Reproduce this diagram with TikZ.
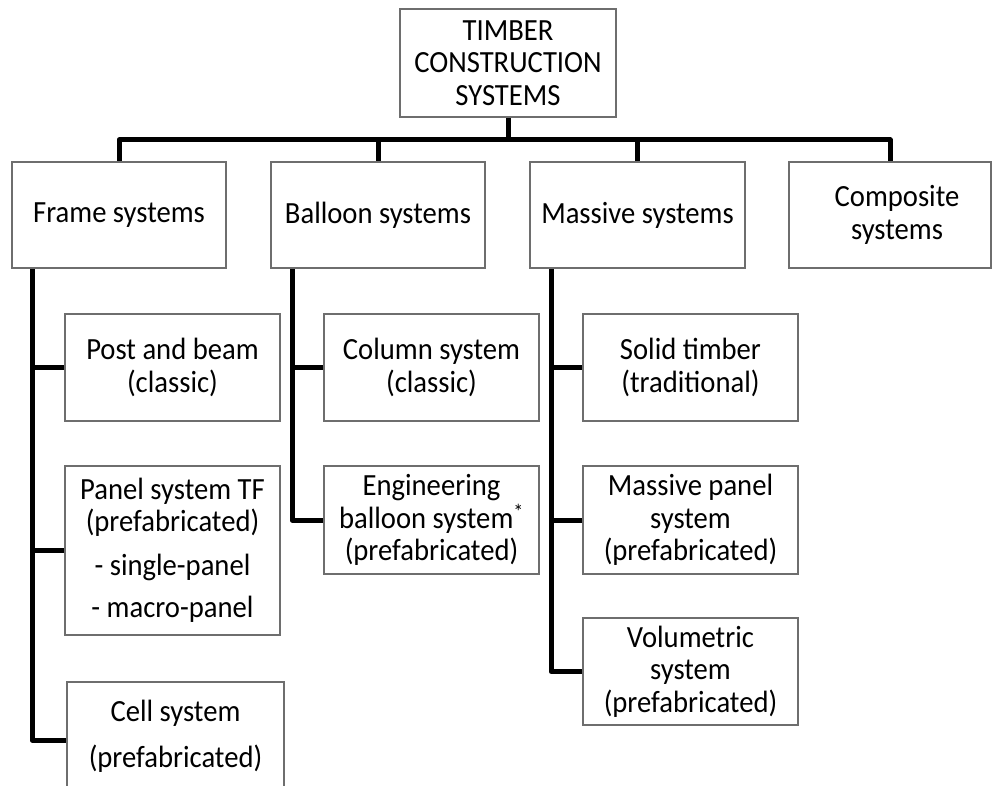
\documentclass[tikz,border=0pt]{standalone}
\usepackage{fontspec}
\setmainfont{Carlito}[FakeStretch=0.93]
\definecolor{boxgray}{RGB}{110,110,110}
\begin{document}
\begin{tikzpicture}[x=1pt,y=-1pt,
  box/.style={draw=boxgray, line width=2pt, fill=white, inner sep=0pt, align=center,
    font=\fontsize{30.8}{32.5}\selectfont},
  conn/.style={line width=5pt, line join=round, line cap=butt}]
\useasboundingbox (0,0) rectangle (992,786);
% level 0
\node[box, minimum width=216pt, minimum height=108pt] (top) at (508,63) {TIMBER\\CONSTRUCTION\\SYSTEMS};
% level 1
\node[box, minimum width=214pt, minimum height=106pt] (frame) at (119,215) {Frame systems};
\node[box, minimum width=214pt, minimum height=106pt] (balloon) at (378,215) {Balloon systems};
\node[box, minimum width=215pt, minimum height=106pt] (massive) at (637.5,215) {Massive systems};
\node[box, minimum width=202pt, minimum height=106pt] (comp) at (890,215) {\hspace*{14pt}Composite\\\hspace*{14pt}systems};
% level 2: frame
\node[box, minimum width=215pt, minimum height=107pt] (post) at (172.5,367.5) {Post and beam\\(classic)};
\node[box, minimum width=215pt, minimum height=169pt] (panel) at (172.5,550.5) {Panel system TF\\(prefabricated)\\[11pt]- single-panel\\[10pt]- macro-panel};
\node[box, minimum width=217pt, minimum height=109pt] (cell) at (175.5,736.5) {Cell system\\[14pt](prefabricated)};
% level 2: balloon
\node[box, minimum width=215pt, minimum height=107pt] (column) at (431.5,367.5) {Column system\\(classic)};
\node[box, minimum width=215pt, minimum height=108pt] (eng) at (431.5,520) {Engineering\\balloon system\textsuperscript{*}\\(prefabricated)};
% level 2: massive
\node[box, minimum width=215pt, minimum height=107pt] (solid) at (690.5,367.5) {Solid timber\\(traditional)};
\node[box, minimum width=215pt, minimum height=108pt] (mpanel) at (690.5,520) {Massive panel\\system\\(prefabricated)};
\node[box, minimum width=215pt, minimum height=107pt] (vol) at (690.5,671.5) {Volumetric\\system\\(prefabricated)};
% connectors level 0 -> 1
\draw[conn] (top.south) -- ++(0,22) coordinate (bus);
\draw[conn] (frame.north) |- (bus) -| (comp.north);
\draw[conn] (balloon.north) -- (balloon.north |- bus);
\draw[conn] (massive.north) -- (massive.north |- bus);
% frame branches
\draw[conn] ([xshift=21pt]frame.south west) |- ([yshift=-3.5pt]cell.west);
\draw[conn] (post.west) -- ++(-32pt,0);
\draw[conn] (panel.west) -- ++(-32pt,0);
% balloon branches
\draw[conn] ([xshift=22pt]balloon.south west) |- (eng.west);
\draw[conn] (column.west) -- ++(-31pt,0);
% massive branches
\draw[conn] ([xshift=22pt]massive.south west) |- (vol.west);
\draw[conn] (solid.west) -- ++(-31pt,0);
\draw[conn] (mpanel.west) -- ++(-31pt,0);
\end{tikzpicture}
\end{document}
